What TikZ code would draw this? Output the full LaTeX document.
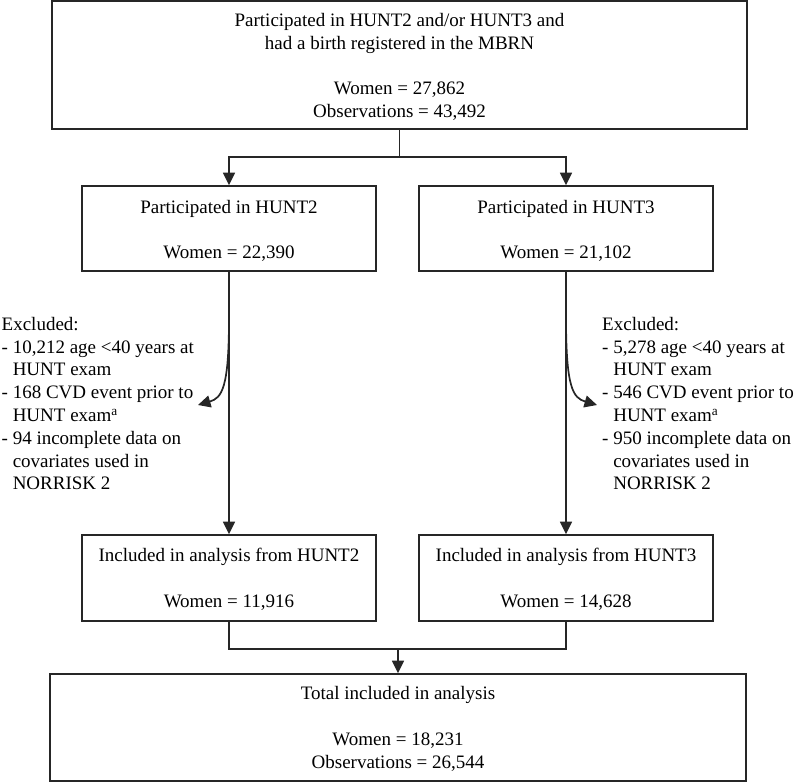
\documentclass[tikz,border=0pt]{standalone}
\usepackage{fontspec}
\setmainfont{Liberation Serif}
\usetikzlibrary{arrows.meta}
\begin{document}
\begin{tikzpicture}[x=1pt,y=-1pt,
  box/.style={draw=black!85,line width=1.7pt,inner sep=0pt,minimum width=#1},
  txt/.style={anchor=base,inner sep=0pt,font=\fontsize{19}{22.8}\selectfont},
  exc/.style={anchor=north west,inner sep=0pt,align=left,font=\fontsize{19}{22.8}\selectfont},
  conn/.style={draw=black!85,line width=1.7pt},
  arr/.style={conn,-{Triangle[length=12.5pt,width=12pt]}}]
\useasboundingbox (0,0) rectangle (794,782);
% boxes
\node[box=695pt,minimum height=128pt] (top) at (399.5,65) {};
\node[box=294pt,minimum height=85pt] (h2) at (229,228.5) {};
\node[box=294pt,minimum height=85pt] (h3) at (566,228.5) {};
\node[box=294pt,minimum height=86pt] (i2) at (229,578) {};
\node[box=294pt,minimum height=86pt] (i3) at (566,578) {};
\node[box=696pt,minimum height=107pt] (bot) at (398,727.5) {};
% texts
\node[txt] (t1) at (399.5,26.5) {Participated in HUNT2 and/or HUNT3 and};
\node[txt] (t2) at (399.5,49.5) {had a birth registered in the MBRN};
\node[txt] (t3) at (399.5,94.5) {Women = 27,862};
\node[txt] (t4) at (399.5,117.5) {Observations = 43,492};
\node[txt] (h2a) at (229,213.5) {Participated in HUNT2};
\node[txt] (h2b) at (229,258.5) {Women = 22,390};
\node[txt] (h3a) at (566,213.5) {Participated in HUNT3};
\node[txt] (h3b) at (566,258.5) {Women = 21,102};
\node[txt] (i2a) at (229,561.5) {Included in analysis from HUNT2};
\node[txt] (i2b) at (229,607.5) {Women = 11,916};
\node[txt] (i3a) at (566,561.5) {Included in analysis from HUNT3};
\node[txt] (i3b) at (566,607.5) {Women = 14,628};
\node[txt] (b1) at (398,699.5) {Total included in analysis};
\node[txt] (b2) at (398,745.5) {Women = 18,231};
\node[txt] (b3) at (398,768.5) {Observations = 26,544};
% exclusion texts
\node[exc] (ex2) at (1.5,317) {Excluded:\\
- 10,212 age <40 years at\\
\phantom{- }HUNT exam\\
- 168 CVD event prior to\\
\phantom{- }HUNT exam\textsuperscript{a}\\
- 94 incomplete data on\\
\phantom{- }covariates used in\\
\phantom{- }NORRISK 2};
\node[exc] (ex3) at (602,317) {Excluded:\\
- 5,278 age <40 years at\\
\phantom{- }HUNT exam\\
- 546 CVD event prior to\\
\phantom{- }HUNT exam\textsuperscript{a}\\
- 950 incomplete data on\\
\phantom{- }covariates used in\\
\phantom{- }NORRISK 2};
% connectors
\coordinate (split) at (399.5,157);
\draw[conn] (top.south) -- (split);
\draw[arr] (split) -| (h2.north);
\draw[arr] (split) -| (h3.north);
\draw[arr] (h2.south) -- (i2.north);
\draw[arr] (h3.south) -- (i3.north);
\coordinate (c2) at (229,318);
\coordinate (e2) at (198,405);
\coordinate (c3) at (566,318);
\coordinate (e3) at (597,405);
\draw[arr] (c2) .. controls (229,388) and (222,398) .. (e2);
\draw[arr] (c3) .. controls (566,388) and (573,398) .. (e3);
\coordinate (merge) at (398,649);
\draw[conn] (i2.south) |- (merge) -| (i3.south);
\draw[arr] (merge) -- (bot.north);
\end{tikzpicture}
\end{document}
